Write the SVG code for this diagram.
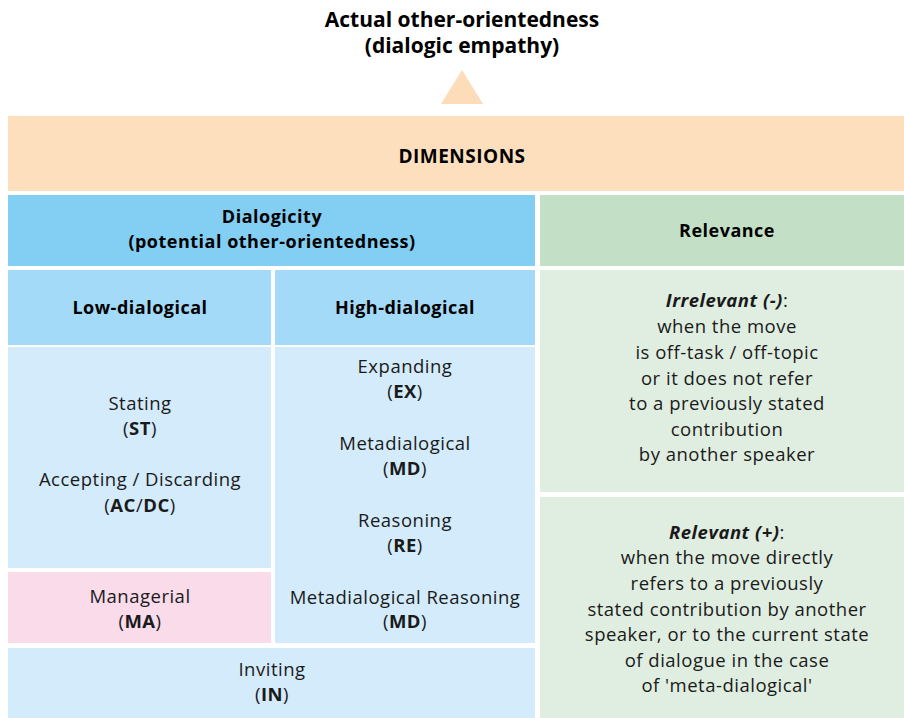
<svg xmlns="http://www.w3.org/2000/svg" width="904" height="718" viewBox="0 0 904 718">
<style>
text{font-family:"Open Sans","Noto Sans","Liberation Sans",sans-serif;fill:#1a1a1a;text-anchor:middle}
.t{font-size:21px;font-weight:700;fill:#000}
.h{font-size:18px;font-weight:700;fill:#000;letter-spacing:0.5px}
.d{font-size:19px}
.b{font-size:18.5px;font-weight:400;letter-spacing:0.5px}
.b tspan.k{font-weight:700}
.bi{font-weight:700;font-style:italic}
</style>
<g id="title">
<text class="t" x="462" y="27">Actual other-orientedness</text>
<text class="t" x="462" y="53">(dialogic empathy)</text>
<polygon points="462,70 441,104 483,104" fill="#fcdcb9"/>
</g>
<g id="dimensions">
<rect x="8" y="116" width="896" height="75" fill="#fddfbe"/>
<text class="h d" x="462" y="163">DIMENSIONS</text>
</g>
<g id="dialogicity">
<rect x="8" y="195" width="527" height="71" fill="#83cff4"/>
<text class="h" x="272" y="223">Dialogicity</text>
<text class="h" x="272" y="248">(potential other-orientedness)</text>
</g>
<g id="relevance">
<rect x="540" y="195" width="364" height="71" fill="#c3e0c7"/>
<text class="h" x="727" y="237">Relevance</text>
</g>
<g id="low-dialogical">
<rect x="8" y="270" width="263" height="75" fill="#a3daf7"/>
<text class="h" x="140" y="314">Low-dialogical</text>
</g>
<g id="high-dialogical">
<rect x="275" y="270" width="260" height="75" fill="#a3daf7"/>
<text class="h" x="405" y="314">High-dialogical</text>
</g>
<g id="low-moves">
<rect x="8" y="347" width="263" height="221" fill="#d3ebfa"/>
<text class="b" x="140" y="410">Stating</text>
<text class="b" x="140" y="435">(<tspan class="k">ST</tspan>)</text>
<text class="b" x="140" y="486">Accepting / Discarding</text>
<text class="b" x="140" y="512">(<tspan class="k">AC</tspan>/<tspan class="k">DC</tspan>)</text>
</g>
<g id="managerial">
<rect x="8" y="572" width="263" height="71" fill="#f9dbea"/>
<text class="b" x="140" y="603">Managerial</text>
<text class="b" x="140" y="628">(<tspan class="k">MA</tspan>)</text>
</g>
<g id="high-moves">
<rect x="275" y="347" width="260" height="296" fill="#d3ebfa"/>
<text class="b" x="405" y="373">Expanding</text>
<text class="b" x="405" y="398">(<tspan class="k">EX</tspan>)</text>
<text class="b" x="405" y="450">Metadialogical</text>
<text class="b" x="405" y="475">(<tspan class="k">MD</tspan>)</text>
<text class="b" x="405" y="527">Reasoning</text>
<text class="b" x="405" y="552">(<tspan class="k">RE</tspan>)</text>
<text class="b" x="405" y="604">Metadialogical Reasoning</text>
<text class="b" x="405" y="628">(<tspan class="k">MD</tspan>)</text>
</g>
<g id="inviting">
<rect x="8" y="648" width="527" height="70" fill="#d3ebfa"/>
<text class="b" x="272" y="676">Inviting</text>
<text class="b" x="272" y="701">(<tspan class="k">IN</tspan>)</text>
</g>
<g id="irrelevant">
<rect x="540" y="270" width="364" height="222" fill="#e0eee1"/>
<text class="b" x="727" y="307"><tspan class="bi">Irrelevant (-)</tspan>:</text>
<text class="b" x="727" y="333">when the move</text>
<text class="b" x="727" y="359">is off-task / off-topic</text>
<text class="b" x="727" y="385">or it does not refer</text>
<text class="b" x="727" y="410">to a previously stated</text>
<text class="b" x="727" y="436">contribution</text>
<text class="b" x="727" y="461">by another speaker</text>
</g>
<g id="relevant">
<rect x="540" y="497" width="364" height="221" fill="#e0eee1"/>
<text class="b" x="727" y="539"><tspan class="bi">Relevant (+)</tspan>:</text>
<text class="b" x="727" y="564">when the move directly</text>
<text class="b" x="727" y="590">refers to a previously</text>
<text class="b" x="727" y="616">stated contribution by another</text>
<text class="b" x="727" y="641">speaker, or to the current state</text>
<text class="b" x="727" y="667">of dialogue in the case</text>
<text class="b" x="727" y="692">of 'meta-dialogical'</text>
</g>
<g id="connectors"></g>
</svg>
